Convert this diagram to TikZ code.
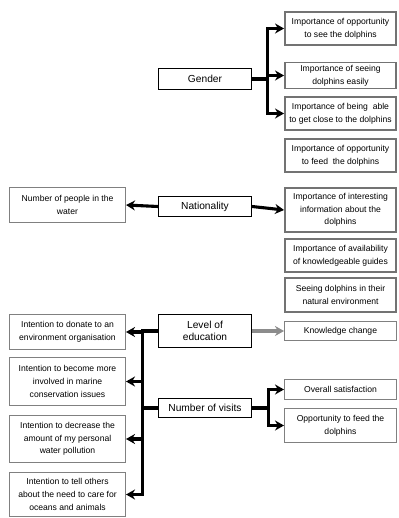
\documentclass[tikz,border=0pt]{standalone}
\usepackage{fontspec}
\setmainfont{Liberation Sans}
\usetikzlibrary{arrows.meta}
\tikzset{
  box/.style={rectangle, draw, align=center, inner sep=1.5pt,
              font=\fontsize{8.6}{12.7}\selectfont},
  factor/.style={box, draw=black, line width=1.2pt, minimum width=93pt,
                 font=\fontsize{10.2}{12.7}\selectfont},
  rating/.style={box, draw=black!55, line width=1.9pt, minimum width=111pt},
  result/.style={box, draw=black!50, line width=1pt, minimum width=112pt},
  intent/.style={box, draw=black!50, line width=1pt, minimum width=116pt},
  link/.style={line width=3.1pt, line cap=rect},
  arr/.style={-{Stealth[length=9pt, width=10pt]}, line width=3.1pt},
}

\begin{document}
\begin{tikzpicture}[x=1pt, y=-1pt]
  \useasboundingbox (0,0) rectangle (398,518);

  \node[factor, minimum height=21pt] (gender) at (205,79)    {Gender};
  \node[factor, minimum height=20pt] (nation) at (205,206.5) {Nationality};
  \node[factor, minimum height=33pt] (educ)   at (205,331)   {Level of\\education};
  \node[factor, minimum height=19pt] (visits) at (205,408)   {Number of visits};

  \node[rating, minimum height=33pt] (see)    at (340.5,28.5)  {Importance of opportunity\\to see the dolphins};
  \node[rating, minimum height=26pt] (easy)   at (340.5,75.5)  {Importance of seeing\\dolphins easily};
  \node[rating, minimum height=33pt] (close)  at (340.5,113.5) {Importance of being\ \ able\\to get close to the dolphins};
  \node[rating, minimum height=33pt] (feed)   at (340.5,155.5) {Importance of opportunity\\to feed\ \ the dolphins};
  \node[rating, minimum height=44pt] (info)   at (340.5,210)   {Importance of interesting\\information about the\\dolphins};
  \node[rating, minimum height=33pt] (guides) at (340.5,255.5) {Importance of availability\\of knowledgeable guides};
  \node[rating, minimum height=34pt] (nature) at (340.5,295)   {Seeing dolphins in their\\natural environment};

  \node[result, minimum height=19pt] (know)    at (340.5,331)   {Knowledge change};
  \node[result, minimum height=20pt] (overall) at (340.5,389.5) {Overall satisfaction};
  \node[result, minimum height=34pt] (feedopp) at (340.5,425.5) {Opportunity to feed the\\dolphins};

  \node[intent, minimum height=35pt] (people)  at (67.5,205)   {Number of people in the\\water};
  \node[intent, minimum height=35pt] (donate)  at (67.5,332)   {Intention to donate to an\\environment organisation};
  \node[intent, minimum height=48pt] (involve) at (67.5,381.5) {Intention to become more\\involved in marine\\conservation issues};
  \node[intent, minimum height=47pt] (pollute) at (67.5,439)   {Intention to decrease the\\amount of my personal\\water pollution};
  \node[intent, minimum height=44pt] (tell)    at (67.5,494.5) {Intention to tell others\\about the need to care for\\oceans and animals};

  \coordinate (gbus) at ([xshift=15pt]gender.east);
  \draw[link] (gender.east) -- (gbus);
  \draw[arr] (gbus) |- (see.west);
  \draw[arr] (gbus) |- (easy.west);
  \draw[arr] (gbus) |- (close.west);

  \draw[arr] (nation.west) -- (people.east);
  \draw[arr] (nation.east) -- (info.west);

  \draw[arr, black!45] (educ.east) -- (know.west);

  \coordinate (ebus) at ([xshift=-15pt]educ.west);
  \draw[link] (educ.west) -- (ebus);
  \draw[link] (visits.west) -- (ebus |- visits.west);
  \draw[arr] (ebus) |- (donate.east);
  \draw[arr] (ebus) |- (involve.east);
  \draw[arr] (ebus) |- (pollute.east);
  \draw[arr] (ebus) |- (tell.east);

  \coordinate (vbus) at ([xshift=16pt]visits.east);
  \draw[link] (visits.east) -- (vbus);
  \draw[arr] (vbus) |- (overall.west);
  \draw[arr] (vbus) |- (feedopp.west);
\end{tikzpicture}
\end{document}
